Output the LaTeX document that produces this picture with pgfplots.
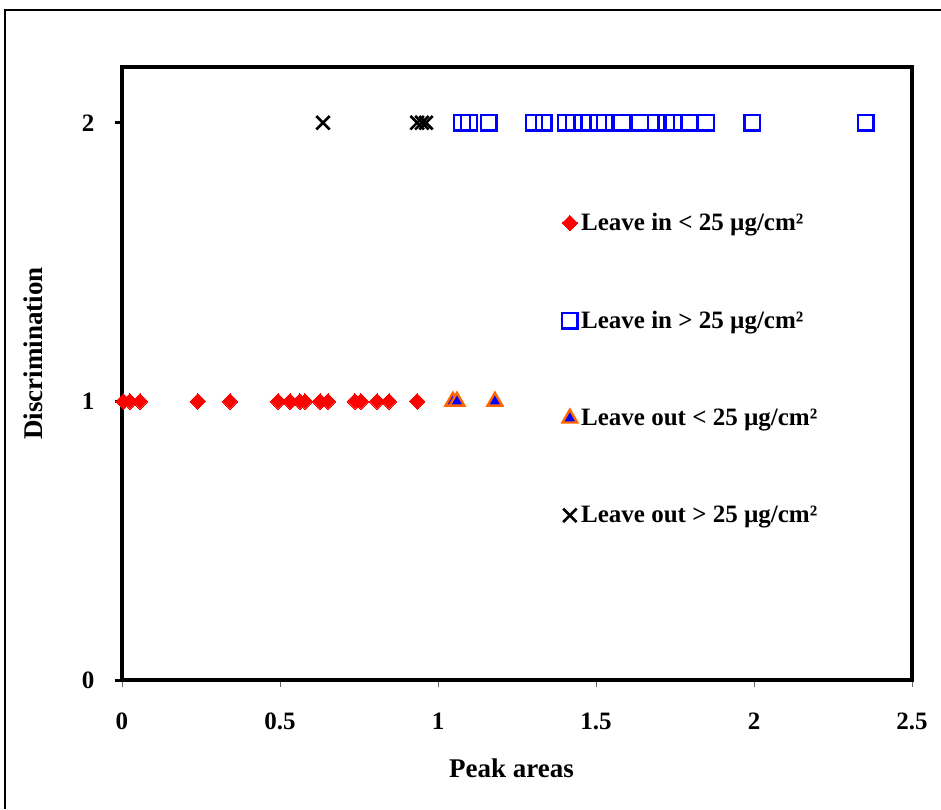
\documentclass[border=0pt]{standalone}
\usepackage{pgfplots}
\pgfplotsset{compat=1.18}
\usepackage{fontspec}
\setmainfont{Liberation Serif}
\definecolor{mkorange}{RGB}{255,102,0}
\definecolor{mkblue}{RGB}{0,0,255}
\definecolor{mkred}{RGB}{255,0,0}
\begin{document}
\begin{tikzpicture}
\begin{axis}[
  at={(0pt,0pt)}, anchor=south west,
  scale only axis, width=790pt, height=613pt,
  xmin=0, xmax=2.5, ymin=0, ymax=2.2,
  xtick={0,0.5,1,1.5,2,2.5},
  xticklabels={0,0.5,1,1.5,2,2.5},
  ytick={0,1,2},
  xtick pos=bottom, ytick pos=left,
  axis on top, clip=false,
  axis line style={line width=4pt},
  tick align=outside,
  major tick length=7pt,
  xtick style={line width=0.6pt, draw=black!60},
  ytick style={line width=3pt, black},
  tick label style={font=\fontsize{25}{30}\selectfont\bfseries},
  /pgf/number format/assume math mode=true,
  xticklabel style={anchor=north, yshift=-22pt},
  yticklabel style={anchor=east, xshift=-17pt},
  label style={font=\fontsize{27}{32}\selectfont\bfseries},
  xlabel={Peak areas},
  ylabel={Discrimination},
  xlabel style={at={(axis description cs:0.493,-0.1436)}, anchor=center},
  ylabel style={at={(axis description cs:-0.1127,0.533)}, anchor=center},
  legend image code/.code={\draw[#1] plot coordinates {(0pt,0pt)};},
  legend style={at={(axis cs:1.392,1.682)}, anchor=north west, draw=none, fill=none,
    font=\fontsize{25}{30}\selectfont\bfseries, row sep=75pt, inner sep=0pt,
    cells={anchor=west}, nodes={inner xsep=3.5pt}},
]
\addplot[only marks, mark=square*, mark size=5.5pt, mark options={rotate=45, fill=mkred, draw=mkred, line width=0pt}]
coordinates {
(0.005,1) (0.025,1) (0.057,1) (0.240,1) (0.342,1) (0.494,1) (0.532,1) (0.563,1)
(0.579,1) (0.627,1) (0.652,1) (0.737,1) (0.756,1) (0.807,1) (0.845,1) (0.934,1)
};
\addlegendentry{Leave in < 25 µg/cm²}
\addplot[only marks, mark=square, mark size=7.8pt, mark options={draw=mkblue, line width=2.4pt}]
coordinates {
(1.076,2) (1.098,2) (1.161,2) (1.304,2) (1.335,2) (1.405,2) (1.430,2) (1.459,2)
(1.506,2) (1.528,2) (1.582,2) (1.639,2) (1.690,2) (1.722,2) (1.747,2) (1.794,2)
(1.848,2) (1.994,2) (2.354,2)
};
\addlegendentry{Leave in > 25 µg/cm²}
\addplot[only marks, mark=triangle*, mark size=8.5pt, mark options={fill=mkblue, draw=mkorange, line width=2.4pt}]
coordinates {
(1.047,1) (1.060,1) (1.180,1)
};
\addlegendentry{Leave out < 25 µg/cm²}
\addplot[only marks, mark=x, mark size=9.5pt, mark options={draw=black, line width=2.6pt}]
coordinates {
(0.636,2) (0.934,2) (0.949,2) (0.962,2)
};
\addlegendentry{Leave out > 25 µg/cm²}
\end{axis}
\draw[line width=2pt] (-117pt,-129pt) -- (-117pt,670pt) -- (830pt,670pt);
\pgfresetboundingbox
\useasboundingbox (-122pt,-129pt) rectangle (819pt,680pt);
\end{tikzpicture}
\end{document}
